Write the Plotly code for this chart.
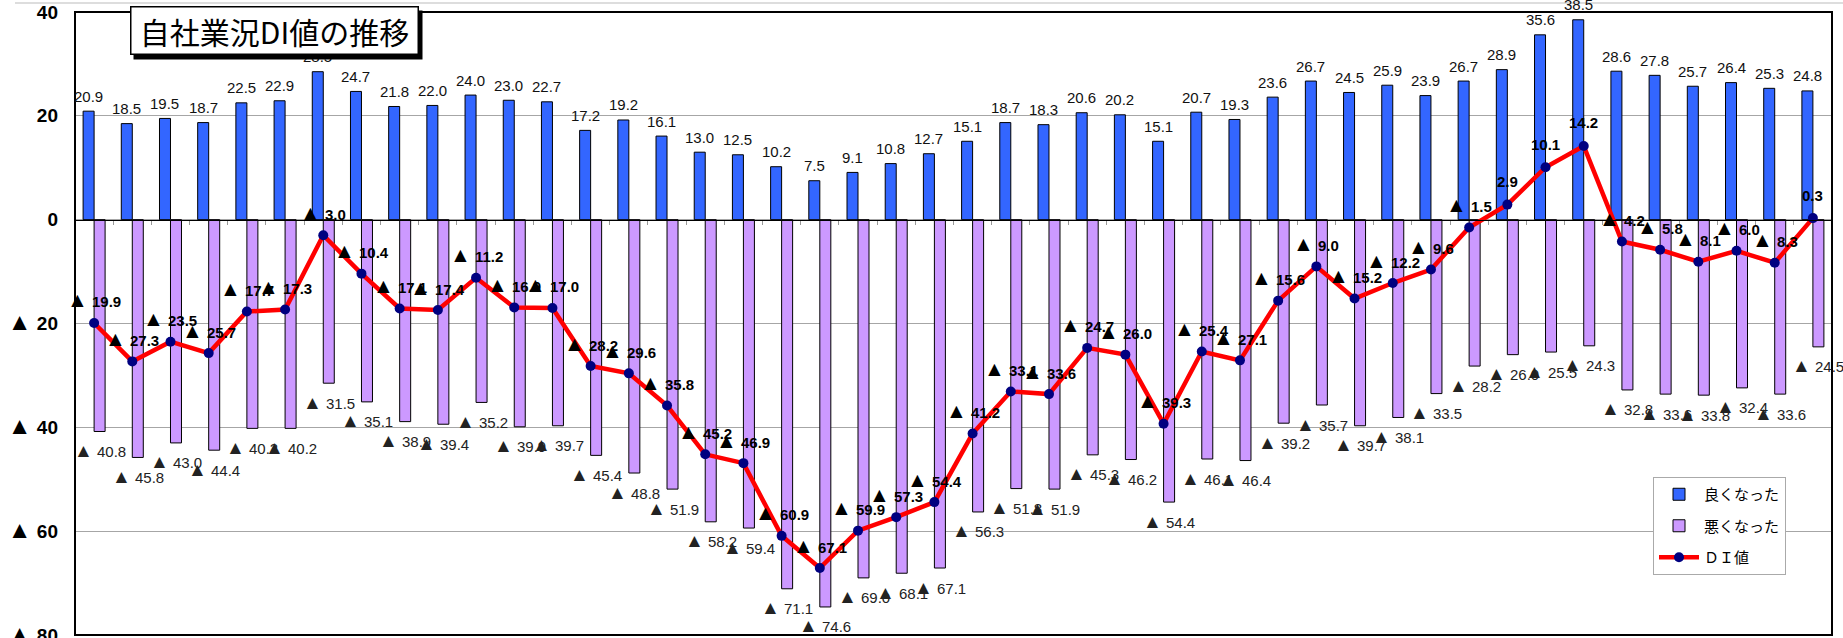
import plotly.graph_objects as go

# ---- data -------------------------------------------------------------
good = [20.9, 18.5, 19.5, 18.7, 22.5, 22.9, 28.5, 24.7, 21.8, 22.0, 24.0, 23.0,
        22.7, 17.2, 19.2, 16.1, 13.0, 12.5, 10.2, 7.5, 9.1, 10.8, 12.7, 15.1,
        18.7, 18.3, 20.6, 20.2, 15.1, 20.7, 19.3, 23.6, 26.7, 24.5, 25.9, 23.9,
        26.7, 28.9, 35.6, 38.5, 28.6, 27.8, 25.7, 26.4, 25.3, 24.8]
bad = [40.8, 45.8, 43.0, 44.4, 40.2, 40.2, 31.5, 35.1, 38.9, 39.4, 35.2, 39.9,
       39.7, 45.4, 48.8, 51.9, 58.2, 59.4, 71.1, 74.6, 69.0, 68.1, 67.1, 56.3,
       51.8, 51.9, 45.3, 46.2, 54.4, 46.1, 46.4, 39.2, 35.7, 39.7, 38.1, 33.5,
       28.2, 26.0, 25.5, 24.3, 32.8, 33.6, 33.8, 32.4, 33.6, 24.5]
di = [-19.9, -27.3, -23.5, -25.7, -17.7, -17.3, -3.0, -10.4, -17.1, -17.4, -11.2,
      -16.9, -17.0, -28.2, -29.6, -35.8, -45.2, -46.9, -60.9, -67.1, -59.9, -57.3,
      -54.4, -41.2, -33.1, -33.6, -24.7, -26.0, -39.3, -25.4, -27.1, -15.6, -9.0,
      -15.2, -12.2, -9.6, -1.5, 2.9, 10.1, 14.2, -4.2, -5.8, -8.1, -6.0, -8.3, 0.3]
periods = list(range(len(good)))

ytick_vals = [40, 20, 0, -20, -40, -60, -80]
ytick_text = ["40", "20", "0", "▲ 20", "▲ 40", "▲ 60", "▲ 80"]

series_names = ["良くなった", "悪くなった", "ＤＩ値"]
title_text = "自社業況DI値の推移"

bad_neg = [-v for v in bad]

LABEL_FONT = "Liberation Sans, Arial, sans-serif"
CJK_FONT = "Noto Sans CJK JP, sans-serif"


def tri(s, size):
    # enlarge the ▲ sign the way the original Japanese font draws it
    return s.replace("▲", f"<span style='font-size:{size}px'>▲</span>")


fig = go.Figure()
fig.add_trace(go.Bar(
    x=periods, y=good, name=series_names[0], legendgroup="g1",
    marker=dict(color="#3366FF", line=dict(color="#000000", width=1)),
    hoverinfo="y",
))
fig.add_trace(go.Bar(
    x=periods, y=bad_neg, name=series_names[1], legendgroup="g2",
    marker=dict(color="#CC99FF", line=dict(color="#000000", width=1)),
    hoverinfo="y",
))
fig.add_trace(go.Scatter(
    x=periods, y=di, name=series_names[2], legendgroup="g3",
    mode="lines+markers",
    line=dict(color="#FF0000", width=4.5),
    marker=dict(color="#000080", size=10),
    cliponaxis=False,
))

annotations = []
for i, v in zip(periods, good):
    annotations.append(dict(
        x=i, y=v, xref="x", yref="y", text=f"{v:.1f}", showarrow=False,
        xshift=-5.5, yshift=15, font=dict(family=LABEL_FONT, size=15, color="#111111"),
    ))
for i, v in zip(periods, bad_neg):
    annotations.append(dict(
        x=i, y=v, xref="x", yref="y", text=tri(f"▲ {abs(v):.1f}", 19), showarrow=False,
        xshift=5.5, yshift=-19, font=dict(family=LABEL_FONT, size=15, color="#222222"),
    ))
for i, v in zip(periods, di):
    txt = f"▲ {abs(v):.1f}" if v < 0 else f"{v:.1f}"
    annotations.append(dict(
        x=i, y=v, xref="x", yref="y", text=f"<b>{tri(txt, 21)}</b>", showarrow=False,
        yshift=23, font=dict(family=LABEL_FONT, size=15, color="#000000"),
    ))

# title box (shadow + box)
L, R, T, B = 75, 11, 12, 3
PW, PH = 1843 - L - R, 638 - T - B
def px_x(p):
    return (p - L) / PW
def px_y(p):
    return (638 - B - p) / PH

tx, ty = px_x(274), px_y(31)
annotations.append(dict(
    x=tx, y=ty, xref="paper", yref="paper", text=" ", showarrow=False,
    width=286, height=46, bgcolor="#000000", xshift=4, yshift=-4,
    xanchor="center", yanchor="middle",
))
annotations.append(dict(
    x=tx, y=ty, xref="paper", yref="paper", text=title_text, showarrow=False,
    width=286, height=46, bgcolor="#FFFFFF", bordercolor="#000000", borderwidth=1.5,
    borderpad=0, xanchor="center", yanchor="middle",
    font=dict(family=CJK_FONT, size=30, color="#000000"),
))

shapes = [
    dict(type="line", xref="paper", yref="paper", x0=px_x(15), x1=px_x(1843),
         y0=px_y(3), y1=px_y(3), line=dict(color="#BBBBBB", width=1)),
    dict(type="rect", xref="paper", yref="paper", x0=0, x1=1, y0=0, y1=1,
         line=dict(color="#000000", width=2), layer="above"),
]

fig.update_layout(
    width=1843, height=638,
    margin=dict(l=L, r=R, t=T, b=B, pad=0, autoexpand=False),
    paper_bgcolor="#FFFFFF", plot_bgcolor="#FFFFFF",
    barmode="group", bargap=0.424, bargroupgap=0,
    annotations=annotations, shapes=shapes,
    legend=dict(
        x=px_x(1653), y=px_y(477), xanchor="left", yanchor="top",
        bgcolor="#FFFFFF", bordercolor="#AAAAAA", borderwidth=1,
        font=dict(family=CJK_FONT, size=15, color="#000000"),
        tracegroupgap=9, traceorder="grouped", itemwidth=40,
    ),
    xaxis=dict(
        range=[-0.5, len(good) - 0.5], anchor="free", position=80 / 120,
        showline=True, linecolor="#000000", linewidth=1.2, automargin=False,
        tickvals=[i - 0.5 for i in range(len(good) + 1)], showticklabels=False,
        ticks="outside", ticklen=4, tickcolor="#999999", showgrid=False, zeroline=False,
    ),
    yaxis=dict(
        range=[-80, 40], tickvals=ytick_vals, automargin=False,
        ticktext=[tri(t, 24) for t in ytick_text],
        showgrid=True, gridcolor="#A6A6A6", gridwidth=1, zeroline=False,
        showline=False, ticks="", ticklabelstandoff=16, ticklabeloverflow="allow",
        tickfont=dict(family=LABEL_FONT, size=19, color="#000000", weight="bold"),
    ),
    showlegend=True,
)

fig.write_html("out.html")
